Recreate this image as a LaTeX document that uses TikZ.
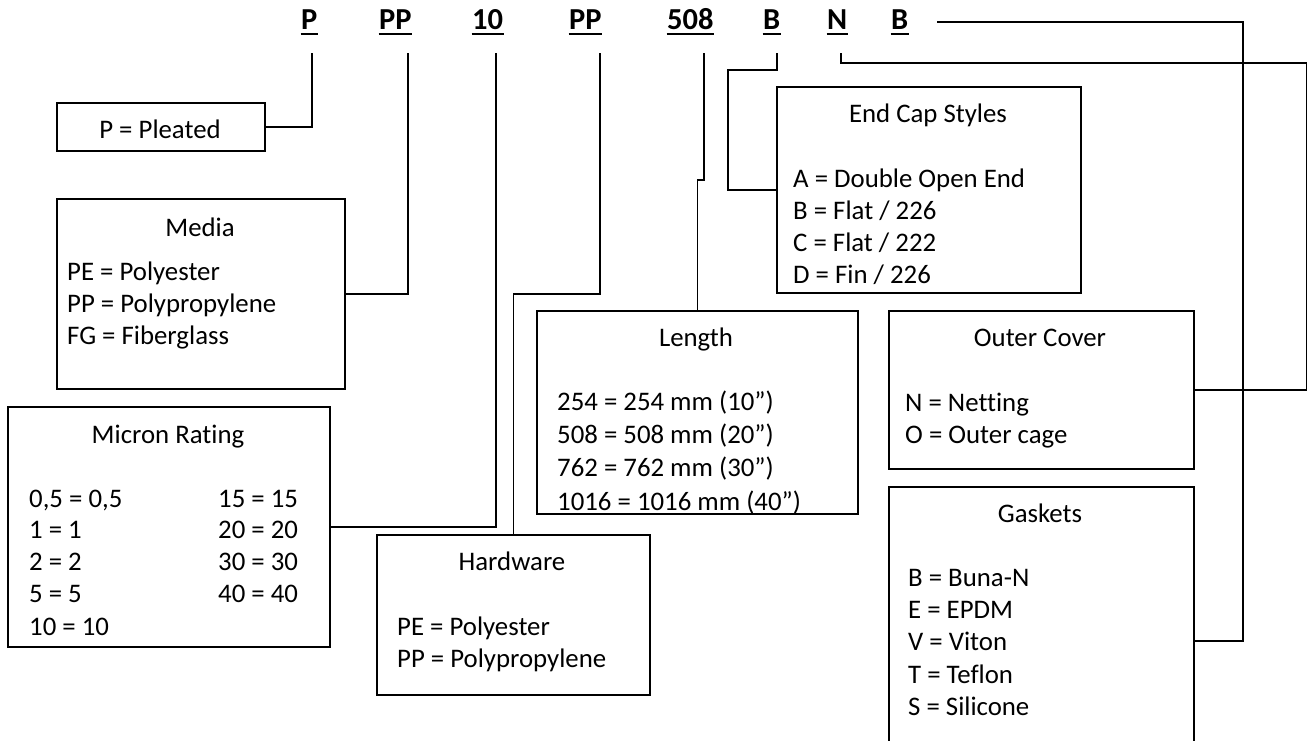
\documentclass[tikz,border=0pt]{standalone}
\usepackage{fontspec}
\setmainfont{Carlito}[Ligatures=NoCommon]
\begin{document}
\begin{tikzpicture}[x=1pt,y=-1pt,
  box/.style={draw, line width=1.8pt, inner sep=0pt, anchor=north west},
  txt/.style={font=\fontsize{26.8}{31}\selectfont, inner sep=0pt, anchor=base west},
  ttl/.style={font=\fontsize{26.8}{31}\selectfont, inner sep=0pt, anchor=base},
  hdr/.style={font=\fontsize{30.5}{31}\selectfont\bfseries, inner sep=0pt, anchor=base west},
  conn/.style={line width=1.8pt},
  uline/.style={line width=2.8pt}]
\useasboundingbox (0,0) rectangle (1307,740);
\clip (0,0) rectangle (1307,740);

% header code
\node[hdr] (h1) at (301,29) {P};
\node[hdr] (h2) at (379,29) {PP};
\node[hdr] (h3) at (472,29) {10};
\node[hdr] (h4) at (569,29) {PP};
\node[hdr] (h5) at (667,29) {508};
\node[hdr] (h6) at (763,29) {B};
\node[hdr] (h7) at (827,29) {N};
\node[hdr] (h8) at (891,29) {B};
\foreach \n in {h1,h2,h3,h4,h5,h6,h7,h8}
  \draw[uline] ([xshift=-0.5pt,yshift=-5pt]\n.base west) -- ([xshift=0.5pt,yshift=-5pt]\n.base east);

\coordinate (c1) at (312,53);
\coordinate (c2) at (408,53);
\coordinate (c3) at (496,53);
\coordinate (c4) at (600,53);
\coordinate (c5) at (704,53);
\coordinate (c6) at (777,53);
\coordinate (c7) at (841,53);
\coordinate (c8) at (937,22);

% boxes
\node[box, minimum width=208pt, minimum height=48pt] (pleat) at (56,102) {};
\node[box, minimum width=288pt, minimum height=190pt] (media) at (56,198) {};
\node[box, minimum width=322pt, minimum height=240pt] (micron) at (7,406) {};
\node[box, minimum width=273pt, minimum height=160pt] (hw) at (376,534) {};
\node[box, minimum width=321pt, minimum height=203pt] (length) at (536,310) {};
\node[box, minimum width=304pt, minimum height=206pt] (endcap) at (776,86) {};
\node[box, minimum width=305pt, minimum height=158pt] (outer) at (888,310) {};
\node[box, minimum width=305pt, minimum height=308pt] (gask) at (888,486) {};

% texts
\node[ttl] (tpleat) at (160,138) {P = Pleated};

\node[ttl] (tmedia) at (200,236) {Media};
\node[txt] (m1) at (67,280) {PE = Polyester};
\node[txt] (m2) at (67,312) {PP = Polypropylene};
\node[txt] (m3) at (67,344) {FG = Fiberglass};

\node[ttl] (tmicron) at (168,443) {Micron Rating};
\node[txt] (r1) at (29,507) {0,5 = 0,5};
\node[txt] (r2) at (29,538) {1 = 1};
\node[txt] (r3) at (29,570) {2 = 2};
\node[txt] (r4) at (29,602) {5 = 5};
\node[txt] (r5) at (29,635) {10 = 10};
\node[txt] (r6) at (218,507) {15 = 15};
\node[txt] (r7) at (218,538) {20 = 20};
\node[txt] (r8) at (218,570) {30 = 30};
\node[txt] (r9) at (218,602) {40 = 40};

\node[ttl] (thw) at (512,570) {Hardware};
\node[txt] (w1) at (397,635) {PE = Polyester};
\node[txt] (w2) at (397,667) {PP = Polypropylene};

\begin{scope}
\clip (length.south west) rectangle (length.north east);
\node[ttl] (tlen) at (696,346) {Length};
\node[txt] (l1) at (557,410) {254 = 254 mm (10”)};
\node[txt] (l2) at (557,443) {508 = 508 mm (20”)};
\node[txt] (l3) at (557,476) {762 = 762 mm (30”)};
\node[txt] (l4) at (557,510) {1016 = 1016 mm (40”)};
\end{scope}

\node[ttl] (tend) at (928,122) {End Cap Styles};
\node[txt] (e1) at (793,187) {A = Double Open End};
\node[txt] (e2) at (793,219) {B = Flat / 226};
\node[txt] (e3) at (793,251) {C = Flat / 222};
\node[txt] (e4) at (793,283) {D = Fin / 226};

\node[ttl] (tout) at (1040,346) {Outer Cover};
\node[txt] (o1) at (905,411) {N = Netting};
\node[txt] (o2) at (905,443) {O = Outer cage};

\node[ttl] (tgask) at (1040,522) {Gaskets};
\node[txt] (g1) at (908,586) {B = Buna-N};
\node[txt] (g2) at (908,618) {E = EPDM};
\node[txt] (g3) at (908,650) {V = Viton};
\node[txt] (g4) at (908,683) {T = Teflon};
\node[txt] (g5) at (908,715) {S = Silicone};

% connectors
\draw[conn] (c1) |- (pleat.east);
\draw[conn] (c2) |- (media.east);
\draw[conn] (c3) |- (micron.east);
\draw[conn] (c4) -- (600,294) -| (hw.north);
\draw[conn] (c5) -- (704,180) -| (length.north);
\draw[conn] (c6) -- (777,70) -| ([xshift=-48pt]endcap.west) -- (endcap.west);
\draw[conn] (c7) -- (841,63) -| ([xshift=112pt]outer.east) -- (outer.east);
\draw[conn] (c8) -| ([xshift=48pt]gask.east) -- (gask.east);
\end{tikzpicture}
\end{document}
